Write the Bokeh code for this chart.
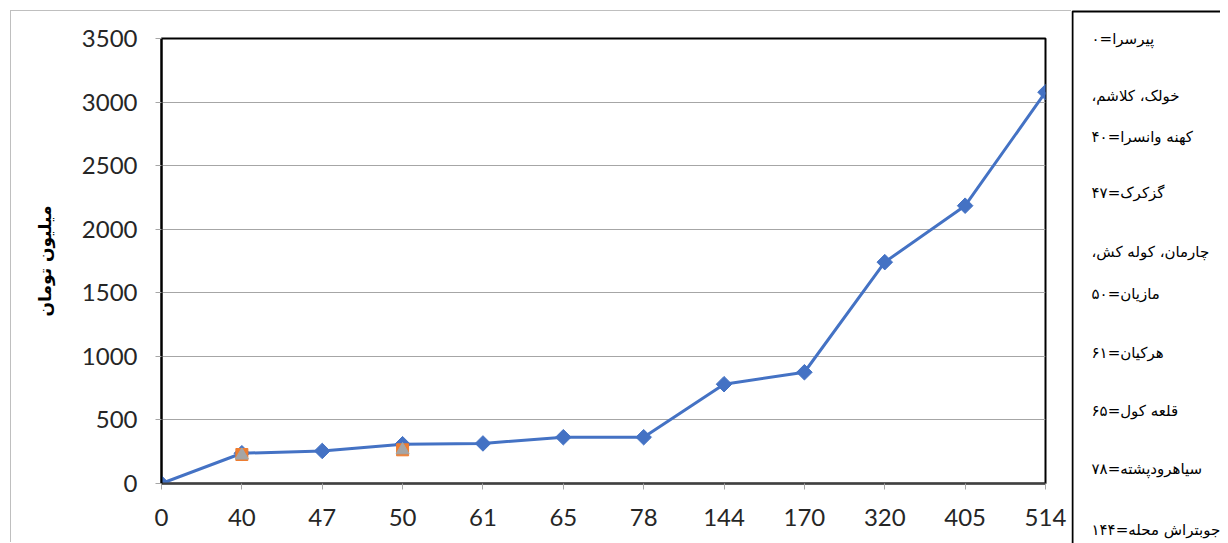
import numpy as np
from bokeh.plotting import figure
from bokeh.layouts import row, column
from bokeh.models import Range1d, FixedTicker, BoxAnnotation
from bokeh.core.properties import value
from bokeh.embed import file_html
from bokeh.resources import INLINE

# ---------------- data ----------------
x_labels = ["0", "40", "47", "50", "61", "65", "78", "144", "170", "320", "405", "514"]
main_values = [0, 238, 256, 309, 315, 364, 364, 781, 875, 1741, 2185, 3078]
orange_cats = ["40", "50"]
orange_values = [228, 265]
gray_cats = ["40", "50"]
gray_values = [222, 263]
y_ticks = [0, 500, 1000, 1500, 2000, 2500, 3000, 3500]
y_title = "میلیون تومان"
RLM = "\u200f"
legend_lines = [
    "پیرسرا=۰",
    "خولک، کلاشم،" + RLM,
    "کهنه وانسرا=۴۰",
    "گزکرک=۴۷",
    "چارمان، کوله کش،" + RLM,
    "مازیان=۵۰",
    "هرکیان=۶۱",
    "قلعه کول=۶۵",
    "سیاهرودپشته=۷۸",
    "جوبتراش محله=۱۴۴",
]

# ---------------- layout (page pixels) ----------------
OUT = 10                                   # outer chart border offset
BOXL = 1071                                # legend box left edge
FL, FR, FT, FB = 161, 1044, 38, 483        # plot frame edges
PW = BOXL - OUT                            # main figure width
PH = 532
QW, QH = 1220 - BOXL, 543
legend_px_x = 1091
legend_px_y = [38, 95, 136, 192, 251, 293, 352, 410, 468, 529]

xi = [x_labels.index(c) for c in x_labels]
oi = [x_labels.index(c) for c in orange_cats]
gi = [x_labels.index(c) for c in gray_cats]
XMAX = len(x_labels) - 1
YMAX = 3500

c0 = OUT + 1  # canvas origin after the css border
p = figure(width=PW, height=PH, output_backend="svg", toolbar_location=None,
           x_range=Range1d(0, XMAX), y_range=Range1d(0, YMAX),
           min_border_left=FL - c0, min_border_right=(OUT + PW) - FR,
           min_border_top=FT - c0, min_border_bottom=(c0 + PH) - FB,
           margin=(OUT, 0, 0, OUT),
           styles={"border-top": "1px solid #bfbfbf", "border-left": "1px solid #bfbfbf"})

p.background_fill_color = "white"
p.border_fill_color = "white"
p.outline_line_color = "black"
p.outline_line_width = 2

BLUE = "#4472C4"
ORANGE = "#ED7D31"
GRAY = "#A5A5A5"

p.line(xi, main_values, line_color=BLUE, line_width=3)
p.scatter(xi, main_values, marker="square", angle=np.pi / 4, size=11,
          fill_color=BLUE, line_color=BLUE)
p.scatter(oi, orange_values, marker="square", size=12, fill_color=ORANGE, line_color=ORANGE)
p.scatter(gi, gray_values, marker="triangle", size=13, fill_color=GRAY, line_color=GRAY)

# axes
p.xaxis.ticker = FixedTicker(ticks=list(range(len(x_labels))))
p.xaxis.major_label_overrides = {i: s for i, s in enumerate(x_labels)}
p.yaxis.ticker = FixedTicker(ticks=y_ticks)
for ax in (p.xaxis, p.yaxis):
    ax.major_label_text_font = "Lato"
    ax.major_label_text_font_size = "24px"
    ax.major_label_text_color = "#262626"
    ax.minor_tick_line_color = None
    ax.major_tick_in = 0
    ax.major_tick_out = 6
    ax.major_tick_line_color = "#a6a6a6"
    ax.major_tick_line_width = 1
p.xaxis.axis_line_color = "#404040"
p.xaxis.axis_line_width = 2
p.yaxis.axis_line_color = "black"
p.yaxis.axis_line_width = 2
p.xaxis.major_label_standoff = 19
p.yaxis.major_label_standoff = 18

p.yaxis.axis_label = y_title
p.yaxis.axis_label_text_font = "DejaVu Sans"
p.yaxis.axis_label_text_font_style = "bold"
p.yaxis.axis_label_text_font_size = "17px"
p.yaxis.axis_label_text_color = "black"
p.yaxis.axis_label_standoff = 24

p.xgrid.grid_line_color = None
p.ygrid.grid_line_color = "#a6a6a6"
p.ygrid.grid_line_width = 1

# ---------------- legend panel ----------------
q = figure(width=QW, height=QH, output_backend="svg", toolbar_location=None,
           x_range=Range1d(0, QW), y_range=Range1d(QH, 0),
           min_border_left=0, min_border_right=0, min_border_top=0, min_border_bottom=0)
q.axis.visible = False
q.grid.grid_line_color = None
q.outline_line_color = None
q.background_fill_color = "white"
q.border_fill_color = "white"
q.add_layout(BoxAnnotation(left=1, right=QW + 50, top=OUT + 1, bottom=QH + 50,
                           fill_color=None, fill_alpha=0, line_color="black",
                           line_alpha=1.0, line_width=2))
q.text(x=[legend_px_x - BOXL] * len(legend_lines), y=legend_px_y, text=legend_lines,
       text_font=value("DejaVu Sans"), text_font_size="15px", text_color="black",
       text_align="left", text_baseline="middle")

layout = row(p, column(q, spacing=0), spacing=0)
open("out.html", "w").write(file_html(layout, INLINE))
